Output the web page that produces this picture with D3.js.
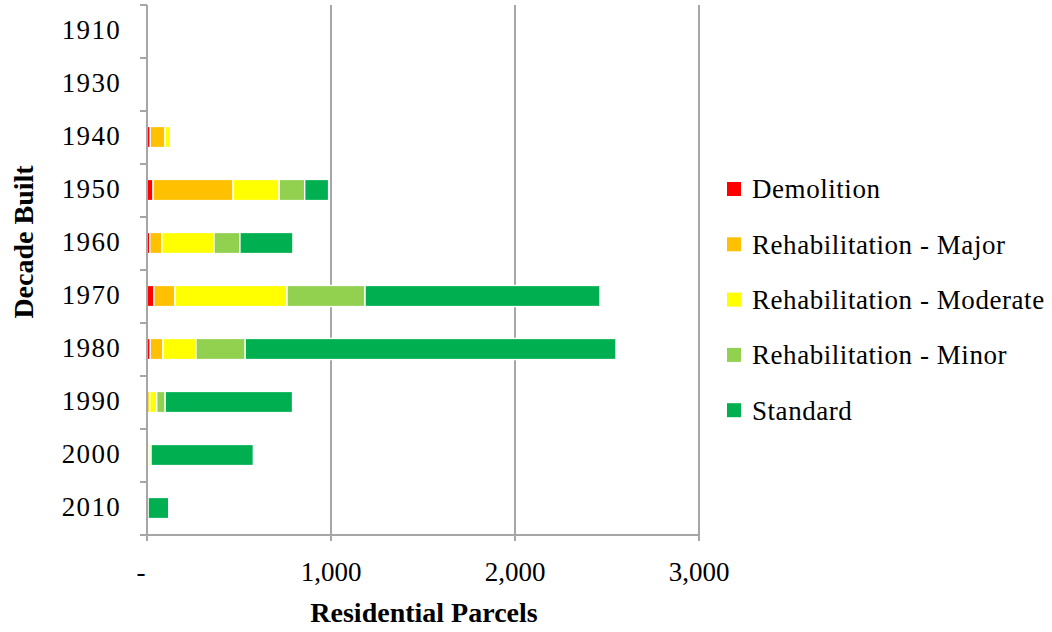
<!DOCTYPE html>
<html>
<head>
<meta charset="utf-8">
<script src="https://cdn.jsdelivr.net/npm/d3@7"></script>
<style>
  html, body { margin: 0; padding: 0; background: #fff; }
  svg { display: block; font-family: "Liberation Serif", "DejaVu Serif", serif; }
</style>
</head>
<body>
<svg id="chart" width="1052" height="632"></svg>
<script>
// Residential parcels by decade built, split by condition category
const decades = ["1910", "1930", "1940", "1950", "1960", "1970", "1980", "1990", "2000", "2010"];
const seriesNames = ["Demolition", "Rehabilitation - Major", "Rehabilitation - Moderate", "Rehabilitation - Minor", "Standard"];
const demolition = [0, 0, 18, 33, 16, 38, 18, 3, 0, 0];
const rehabMajor = [0, 0, 80, 435, 65, 114, 69, 12, 4, 0];
const rehabModerate = [0, 0, 30, 250, 283, 609, 179, 38, 8, 0];
const rehabMinor = [0, 0, 0, 139, 141, 424, 268, 46, 10, 6];
const standard = [0, 0, 0, 130, 288, 1277, 2015, 692, 556, 112];
const seriesColors = ["#FF0000", "#FFC000", "#FFFF00", "#92D050", "#00B050"];
const xTicks = [0, 1000, 2000, 3000];
const xTickLabels = ["-", "1,000", "2,000", "3,000"];

const seriesValues = [demolition, rehabMajor, rehabModerate, rehabMinor, standard];
const rows = decades.map((d, i) => {
  const r = { decade: d };
  seriesNames.forEach((s, k) => { r[s] = seriesValues[k][i]; });
  return r;
});

const svg = d3.select("#chart");
const plotLeft = 147, plotRight = 699, plotTop = 5, plotBottom = 535;

const x = d3.scaleLinear().domain([0, 3000]).range([plotLeft, plotRight]);
const y = d3.scaleBand().domain(decades).range([plotTop, plotBottom]).paddingInner(0.62).paddingOuter(0.31);
const yStep = (plotBottom - plotTop) / decades.length;

const gridColor = "#a6a6a6";

// vertical gridlines
svg.append("g").selectAll("line")
  .data(xTicks.filter(t => t > 0))
  .join("line")
  .attr("x1", d => x(d)).attr("x2", d => x(d))
  .attr("y1", plotTop).attr("y2", plotBottom)
  .attr("stroke", gridColor).attr("stroke-width", 2);

// stacked bars
const stack = d3.stack().keys(seriesNames);
const layers = stack(rows);
const color = d3.scaleOrdinal().domain(seriesNames).range(seriesColors);

svg.append("g").selectAll("g")
  .data(layers)
  .join("g")
  .attr("fill", d => color(d.key))
  .selectAll("rect")
  .data(d => d.filter(p => p[1] - p[0] > 0))
  .join("rect")
  .attr("x", d => x(d[0]))
  .attr("width", d => x(d[1]) - x(d[0]))
  .attr("y", d => y(d.data.decade) - 1)
  .attr("height", y.bandwidth() + 1)
  .attr("stroke", "#fff")
  .attr("stroke-width", 1.4);

// y axis line and category ticks
const axisG = svg.append("g");
axisG.append("line")
  .attr("x1", plotLeft).attr("x2", plotLeft)
  .attr("y1", plotTop).attr("y2", plotBottom + 6)
  .attr("stroke", gridColor).attr("stroke-width", 2);
axisG.selectAll("line.ytick")
  .data(d3.range(decades.length + 1))
  .join("line")
  .attr("class", "ytick")
  .attr("x1", plotLeft - 7).attr("x2", plotLeft)
  .attr("y1", i => plotTop + i * yStep).attr("y2", i => plotTop + i * yStep)
  .attr("stroke", gridColor).attr("stroke-width", 2);

// x axis line and ticks
axisG.append("line")
  .attr("x1", plotLeft - 7).attr("x2", plotRight)
  .attr("y1", plotBottom).attr("y2", plotBottom)
  .attr("stroke", gridColor).attr("stroke-width", 2);
axisG.selectAll("line.xtick")
  .data(xTicks)
  .join("line")
  .attr("class", "xtick")
  .attr("x1", d => x(d)).attr("x2", d => x(d))
  .attr("y1", plotBottom).attr("y2", plotBottom + 6)
  .attr("stroke", gridColor).attr("stroke-width", 2);

// category labels
svg.append("g").selectAll("text")
  .data(decades)
  .join("text")
  .attr("x", 121)
  .attr("y", d => y(d) + y.bandwidth() / 2)
  .attr("dy", "0.28em")
  .attr("text-anchor", "end")
  .attr("font-size", 27)
  .attr("letter-spacing", 1.3)
  .attr("fill", "#000")
  .text(d => d);

// value labels
svg.append("g").selectAll("text")
  .data(xTicks)
  .join("text")
  .attr("x", (d, i) => i === 0 ? x(d) - 6 : x(d))
  .attr("y", 581)
  .attr("text-anchor", "middle")
  .attr("font-size", 27)
  .attr("fill", "#000")
  .text((d, i) => xTickLabels[i]);

// axis titles
svg.append("text")
  .attr("x", 424).attr("y", 622)
  .attr("text-anchor", "middle")
  .attr("font-size", 28)
  .attr("font-weight", "bold")
  .attr("fill", "#000")
  .text("Residential Parcels");

svg.append("text")
  .attr("transform", "translate(33,242) rotate(-90)")
  .attr("text-anchor", "middle")
  .attr("font-size", 28)
  .attr("font-weight", "bold")
  .attr("fill", "#000")
  .text("Decade Built");

// legend
const legend = svg.append("g").selectAll("g")
  .data(seriesNames)
  .join("g")
  .attr("transform", (d, i) => `translate(727, ${189 + i * 55.3})`);
legend.append("rect")
  .attr("x", 0).attr("y", -7)
  .attr("width", 14).attr("height", 14)
  .attr("fill", d => color(d));
legend.append("text")
  .attr("x", 25).attr("y", 0)
  .attr("dy", "0.35em")
  .attr("font-size", 27)
  .attr("letter-spacing", 0.55)
  .attr("fill", "#000")
  .text(d => d);
</script>
</body>
</html>
